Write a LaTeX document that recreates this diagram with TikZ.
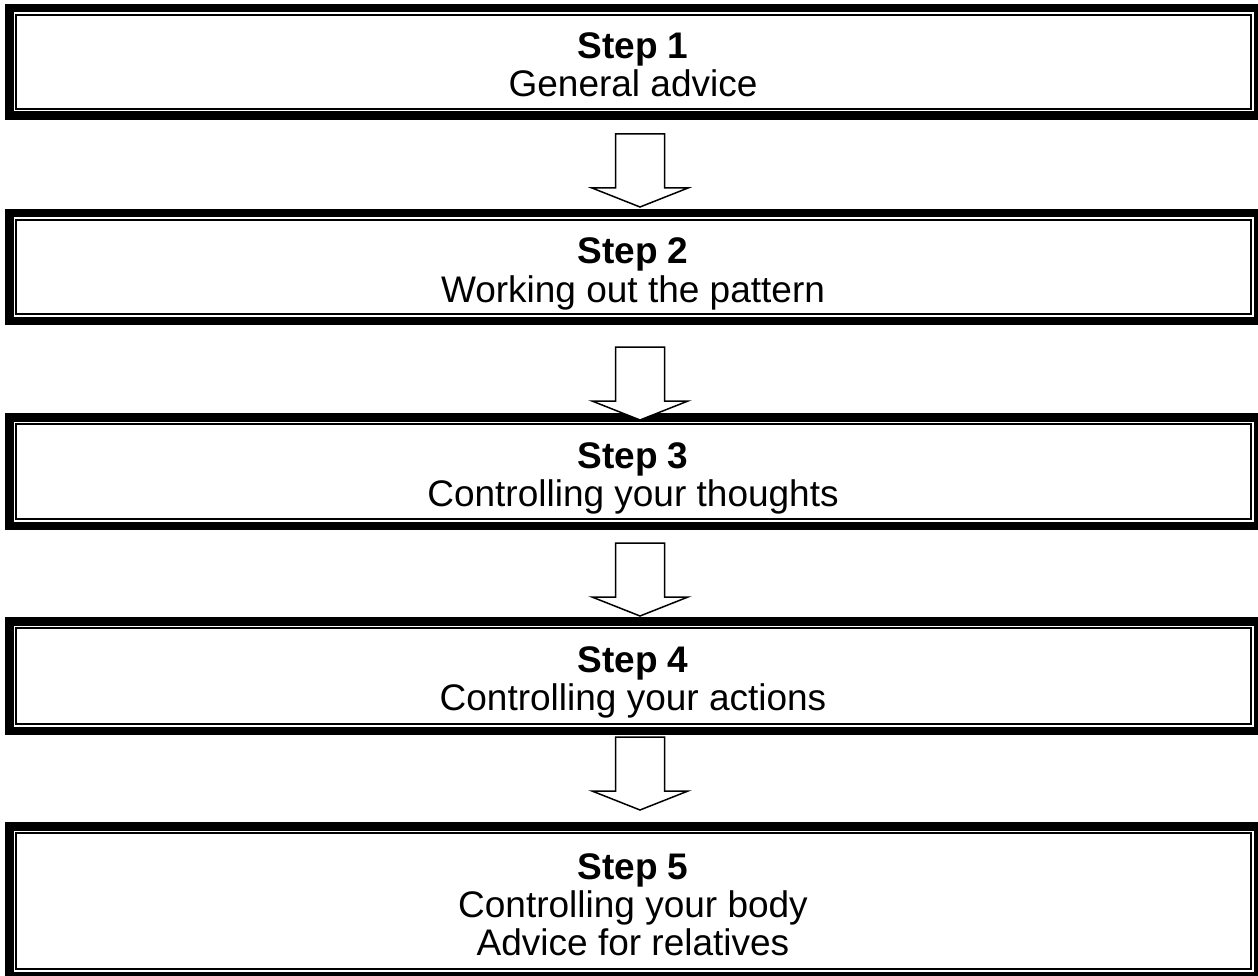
\documentclass[tikz,border=0pt]{standalone}
\usepackage{fontspec}
\setmainfont{Liberation Sans}
\begin{document}
\begin{tikzpicture}[x=1pt,y=-1pt]
\tikzset{
  frame/.style={rectangle, anchor=north west, minimum width=1257pt, minimum height=#1, inner sep=0pt, outer sep=0pt},
  thickrule/.style={line width=8.5pt},
  thinrule/.style={line width=2pt},
  steptext/.style={font=\fontsize{37}{40}\selectfont\bfseries, anchor=base, inner sep=0pt},
  linetext/.style={font=\fontsize{37}{40}\selectfont, anchor=base, inner sep=0pt},
  blockarrow/.style={draw, fill=white, line width=1.5pt, line join=miter}
}
\useasboundingbox (0,0) rectangle (1258,976);
\clip (0,0) rectangle (1258,976);
% boxes
\node[frame=116pt] (b1) at (5,4) {};
\node[frame=116pt] (b2) at (5,209) {};
\node[frame=117pt] (b3) at (5,413) {};
\node[frame=118pt] (b4) at (5,617) {};
\node[frame=158pt] (b5) at (5,822) {};
\foreach \b in {b1,b2,b3,b4,b5}{
  \draw[thickrule] ([shift={(4.25,4.25)}]\b.north west) rectangle ([shift={(-4.25,-4.25)}]\b.south east);
  \draw[thinrule] ([shift={(11,11)}]\b.north west) rectangle ([shift={(-11,-11)}]\b.south east);
}
% texts
\node[steptext] (s1) at (633,59) {Step 1};
\node[linetext] (l1) at (633,97) {General advice};
\node[steptext] (s2) at (633,264) {Step 2};
\node[linetext] (l2) at (633,302) {Working out the pattern};
\node[steptext] (s3) at (633,468) {Step 3};
\node[linetext] (l3) at (633,506) {Controlling your thoughts};
\node[steptext] (s4) at (633,672) {Step 4};
\node[linetext] (l4) at (633,710) {Controlling your actions};
\node[steptext] (s5) at (633,879) {Step 5};
\node[linetext] (l5a) at (633,917) {Controlling your body};
\node[linetext] (l5b) at (633,955) {Advice for relatives};
% arrows
\coordinate (a1) at (640,134);
\coordinate (a2) at (640,347);
\coordinate (a3) at (640,543);
\coordinate (a4) at (640,737);
\foreach \a in {a1,a2,a3,a4}{
  \draw[blockarrow] ([xshift=-24.5pt]\a) -- ++(49,0) -- ++(0,54) -- ++(23.5,0) -- ++(-48,19) -- ++(-48,-19) -- ++(23.5,0) -- cycle;
}
\end{tikzpicture}
\end{document}
